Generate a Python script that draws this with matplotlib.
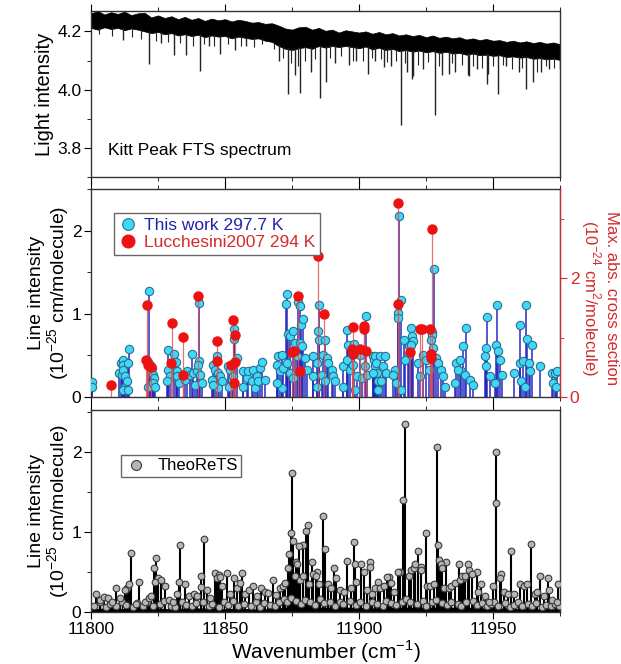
import numpy as np
import matplotlib
matplotlib.use("Agg")
import matplotlib.pyplot as plt
from matplotlib.ticker import MultipleLocator

plt.rcParams["font.family"] = ["Liberation Sans", "DejaVu Sans"]
plt.rcParams["mathtext.fontset"] = "custom"
plt.rcParams["mathtext.rm"] = "Liberation Sans"

WN0 = 11800.0

# ---------- Kitt Peak FTS spectrum: band envelopes + absorption dips ----------
fts_wn = [0, 2.5, 5, 7.5, 10, 12.5, 15, 17.5, 20, 22.5, 25, 27.5, 30, 32.5,
          35, 37.5, 40, 42.5, 45, 47.5, 50, 52.5, 55, 57.5, 60, 62.5, 65,
          67.5, 70, 72.5, 75, 77.5, 80, 82.5, 85, 87.5, 90, 92.5, 95, 97.5,
          100, 102.5, 105, 107.5, 110, 112.5, 115, 117.5, 120, 122.5, 125,
          127.5, 130, 132.5, 135, 137.5, 140, 142.5, 145, 147.5, 150, 152.5,
          155, 157.5, 160, 162.5, 165, 167.5, 170, 172.5, 175]
fts_top = [4.262, 4.270, 4.258, 4.266, 4.260, 4.268, 4.256, 4.262, 4.264,
           4.248, 4.255, 4.246, 4.252, 4.242, 4.250, 4.240, 4.246, 4.236,
           4.244, 4.238, 4.242, 4.234, 4.240, 4.236, 4.230, 4.232, 4.226,
           4.228, 4.220, 4.210, 4.206, 4.214, 4.216, 4.206, 4.212, 4.202,
           4.206, 4.196, 4.204, 4.200, 4.196, 4.200, 4.192, 4.198, 4.190,
           4.194, 4.186, 4.190, 4.184, 4.188, 4.180, 4.186, 4.178, 4.182,
           4.176, 4.180, 4.172, 4.176, 4.170, 4.174, 4.168, 4.170, 4.164,
           4.168, 4.162, 4.166, 4.160, 4.164, 4.158, 4.162, 4.156]
fts_bot = [4.212, 4.206, 4.214, 4.208, 4.212, 4.204, 4.210, 4.206, 4.200,
           4.194, 4.198, 4.190, 4.194, 4.186, 4.190, 4.184, 4.188, 4.180,
           4.186, 4.182, 4.184, 4.176, 4.182, 4.178, 4.174, 4.176, 4.168,
           4.164, 4.150, 4.140, 4.136, 4.142, 4.146, 4.140, 4.150, 4.144,
           4.150, 4.146, 4.150, 4.146, 4.142, 4.148, 4.138, 4.144, 4.136,
           4.140, 4.132, 4.136, 4.130, 4.134, 4.128, 4.132, 4.126, 4.130,
           4.124, 4.126, 4.120, 4.124, 4.118, 4.120, 4.116, 4.118, 4.112,
           4.114, 4.110, 4.112, 4.106, 4.108, 4.104, 4.106, 4.102]
dip_wn = [12.0, 21.8, 26.0, 31.0, 35.6, 40.7, 44.0, 48.2, 53.6, 58.0, 66.0,
          70.0, 73.6, 76.0, 78.1, 82.0, 85.5, 87.7, 91.0, 96.3, 99.0, 103.3,
          106.0, 109.2, 112.0, 115.6, 118.0, 119.8, 120.3, 124.0, 128.2,
          131.0, 133.7, 136.0, 140.7, 141.1, 144.0, 147.8, 148.2, 151.9,
          155.0, 159.6, 162.3, 164.9, 168.0, 171.0, 174.9]
dip_min = [4.170, 4.089, 4.160, 4.118, 4.118, 4.063, 4.150, 4.124, 4.136,
           4.150, 4.170, 4.100, 3.984, 4.050, 3.987, 4.060, 3.972, 4.025,
           4.090, 4.083, 4.100, 4.054, 4.100, 4.077, 4.080, 3.878, 4.060,
           4.036, 4.048, 4.070, 3.913, 4.050, 4.054, 4.060, 4.049, 4.048,
           4.070, 4.019, 4.054, 3.984, 4.080, 4.060, 4.001, 4.025, 4.060,
           4.070, 4.071]
# weaker dips that give the band its ragged lower edge
small_wn = [3.0, 7.8, 15.2, 18.5, 24.1, 28.7, 33.2, 38.0, 42.3, 46.0, 51.0,
            56.1, 60.8, 63.9, 68.2, 71.5, 74.8, 77.2, 80.0, 83.6, 89.2, 93.1,
            97.6, 101.4, 104.7, 108.1, 110.6, 113.7, 117.0, 121.9, 125.8,
            129.7, 134.6, 138.3, 142.6, 146.0, 150.0, 153.6, 157.2, 160.8,
            166.3, 169.6, 172.7]
small_min = [4.190, 4.185, 4.180, 4.175, 4.168, 4.165, 4.160, 4.150, 4.158,
             4.150, 4.155, 4.150, 4.145, 4.155, 4.140, 4.110, 4.090, 4.080,
             4.100, 4.105, 4.110, 4.115, 4.100, 4.098, 4.110, 4.105, 4.095,
             4.100, 4.090, 4.085, 4.095, 4.080, 4.090, 4.085, 4.080, 4.075,
             4.080, 4.085, 4.070, 4.075, 4.060, 4.080, 4.075]

# ---------- This work 297.7 K (left axis, 1e-25 cm/molecule) ----------
work_wn = [0.2, 0.2, 10.6, 11.1, 11.4, 11.8, 12.1, 12.1, 12.7, 12.7, 11.8,
           13.3, 13.9, 13.9, 14.2, 21.8, 21.4, 21.4, 22.0, 22.3, 22.6, 23.0,
           23.5, 23.3, 23.9, 28.6, 28.9, 29.5, 28.5, 31.1, 31.6, 32.0, 32.2,
           32.7, 35.1, 35.7, 36.9, 37.6, 38.2, 38.8, 39.4, 40.4, 40.4, 40.0,
           40.7, 41.3, 45.0, 45.6, 46.3, 46.9, 47.3, 47.5, 48.1, 48.8, 45.6,
           51.2, 51.5, 51.9, 52.5, 53.1, 53.5, 53.4, 54.4, 56.6, 56.8, 58.1,
           58.7, 59.9, 60.6, 61.2, 61.8, 62.4, 63.1, 63.7, 64.9, 69.3, 69.9,
           70.5, 71.1, 71.1, 69.3, 71.8, 72.6, 73.0, 73.3, 73.6, 74.3, 74.3,
           75.5, 75.5, 76.1, 76.7, 77.4, 78.0, 78.0, 78.4, 78.9, 79.2, 79.9,
           80.5, 83.0, 83.0, 84.2, 84.7, 85.0, 85.2, 84.2, 86.1, 86.4, 87.3,
           87.3, 87.9, 88.6, 89.8, 90.4, 91.0, 94.2, 94.2, 95.4, 95.6, 96.0,
           96.6, 97.9, 98.3, 98.5, 99.1, 100.4, 101.0, 102.2, 102.5, 102.9,
           105.3, 105.7, 106.0, 106.6, 107.2, 105.8, 107.7, 109.6, 106.5,
           109.0, 110.2, 105.2, 108.3, 107.1, 115.0, 115.5, 114.6, 114.6,
           116.7, 118.5, 119.3, 119.8, 120.1, 119.5, 118.3, 117.0, 113.3,
           112.7, 113.9, 115.8, 122.0, 123.9, 125.1, 126.1, 122.6, 127.1,
           127.1, 127.9, 127.0, 127.6, 128.9, 129.5, 130.7, 131.3, 132.0,
           136.3, 137.6, 138.2, 140.0, 138.8, 136.9, 139.4, 141.3, 142.5,
           135.7, 147.8, 147.5, 151.2, 151.4, 151.9, 152.5, 153.5, 146.9,
           147.5, 148.8, 150.6, 160.2, 162.2, 162.7, 164.7, 157.7, 160.0,
           161.2, 163.4, 163.7, 160.6, 161.8, 167.4, 172.1, 173.0, 174.0,
           172.4, 173.6]
work_s = [0.18, 0.125, 0.29, 0.41, 0.27, 0.45, 0.39, 0.33, 0.25, 0.125, 0.085,
          0.19, 0.41, 0.085, 0.58, 1.27, 0.42, 0.125, 0.39, 0.31, 0.35, 0.27,
          0.23, 0.17, 0.125, 0.56, 0.33, 0.25, 0.19, 0.52, 0.42, 0.31, 0.25,
          0.17, 0.20, 0.31, 0.27, 0.52, 0.29, 0.15, 0.31, 1.13, 0.43, 0.39,
          0.27, 0.17, 0.20, 0.39, 0.33, 0.49, 0.105, 0.29, 0.25, 0.19, 0.15,
          0.37, 0.125, 0.33, 0.21, 0.25, 0.82, 0.70, 0.47, 0.31, 0.125, 0.23,
          0.31, 0.19, 0.33, 0.105, 0.25, 0.19, 0.35, 0.42, 0.21, 0.39, 0.49,
          0.31, 0.50, 0.105, 0.17, 0.35, 1.12, 0.41, 1.24, 0.76, 0.73, 0.29,
          0.79, 0.23, 0.65, 0.49, 1.14, 1.09, 0.65, 0.86, 0.61, 0.94, 0.47,
          0.33, 0.49, 0.25, 0.41, 0.79, 1.11, 0.68, 0.125, 0.27, 0.51, 0.68,
          0.19, 0.47, 0.41, 0.33, 0.25, 0.19, 0.37, 0.125, 0.45, 0.81, 0.63,
          0.33, 0.39, 0.64, 0.085, 0.25, 0.51, 0.23, 0.37, 0.97, 0.27,
          0.49, 0.45, 0.37, 0.29, 0.19, 0.49, 0.49, 0.49, 0.41,
          0.37, 0.29, 0.29, 0.19, 0.085, 2.17, 1.17, 1.01, 0.95,
          0.68, 0.61, 0.83, 0.73, 0.67, 0.63, 0.49, 0.45, 0.33,
          0.27, 0.17, 0.085, 0.41, 0.51, 0.45, 0.33, 0.25, 0.78,
          0.74, 1.54, 0.69, 0.59, 0.47, 0.41, 0.33, 0.25, 0.125,
          0.41, 0.45, 0.31, 0.83, 0.61, 0.33, 0.27, 0.21, 0.15,
          0.17, 0.96, 0.59, 0.63, 1.10, 0.55, 0.45, 0.27, 0.49,
          0.37, 0.25, 0.17, 0.86, 1.10, 0.70, 0.62, 0.29, 0.41,
          0.43, 0.41, 0.31, 0.19, 0.125, 0.37, 0.29, 0.29, 0.31,
          0.17, 0.125]

# ---------- Lucchesini2007 294 K (right axis, 1e-24 cm^2/molecule) ----------
luc_wn = [7.3, 20.8, 20.5, 21.4, 22.3, 30.1, 29.7, 34.5, 34.5, 40.0, 46.9,
          46.9, 52.1, 52.9, 53.7, 53.9, 53.4, 75.1, 75.7, 77.1, 78.0, 84.7,
          86.8, 97.9, 97.3, 97.9, 101.9, 101.9, 100.4, 102.5, 114.7, 114.4,
          118.9, 122.6, 123.6, 126.6, 127.4, 126.7, 126.7]
luc_x = [0.21, 1.55, 0.62, 0.54, 0.51, 1.25, 0.57, 1.01, 0.37, 1.70, 0.94,
         0.61, 0.54, 1.29, 1.04, 0.59, 0.24, 0.75, 0.78, 1.70, 0.43, 2.38,
         1.39, 1.18, 0.80, 0.73, 1.19, 1.14, 0.80, 0.78, 3.27, 1.57, 0.76,
         1.14, 1.14, 1.15, 2.83, 0.73, 0.65]

# ---------- TheoReTS line list ----------
theo_wn = [15.0, 13.5, 14.0, 24.3, 23.4, 24.9, 23.7, 33.3, 33.0, 42.2, 40.9,
           46.1, 47.6, 50.7, 56.3, 67.9, 75.1, 74.5, 75.3, 74.0, 80.2, 80.8,
           79.0, 77.6, 76.5, 86.4, 87.4, 82.4, 84.2, 95.7, 98.2, 98.5, 100.8,
           104.2, 104.2, 107.1, 111.1, 116.5, 117.1, 115.3, 122.0, 120.8,
           123.0, 124.9, 129.1, 129.5, 130.0, 132.3, 137.2, 139.0, 141.2,
           143.9, 151.3, 151.1, 153.1, 156.8, 164.2, 167.4, 170.4, 174.3,
           2.0, 3.5, 5.0, 6.5, 8.0, 9.5, 11.0, 12.5, 16.8, 18.0, 20.0, 21.5,
           22.5, 26.0, 27.5, 29.0, 30.5, 32.0, 35.0, 36.5, 38.5, 39.5, 41.0,
           43.3, 44.5, 47.0, 48.2, 49.0, 52.0, 53.5, 54.5, 55.5, 57.5, 59.0,
           60.5, 62.0, 63.5, 65.0, 66.0, 69.0, 70.5, 71.5, 72.5, 73.5, 76.0,
           77.0, 78.0, 79.0, 81.5, 83.0, 84.0, 85.0, 88.5, 89.5, 90.5, 91.5,
           93.0, 94.5, 97.0, 99.0, 102.0, 103.0, 105.0, 106.0, 108.0, 109.5,
           110.5, 112.0, 113.0, 114.5, 118.5, 119.5, 120.5, 121.0, 123.2,
           125.5, 126.5, 128.0, 130.5, 131.0, 131.8, 133.5, 134.5, 136.0,
           137.5, 138.5, 139.5, 140.5, 142.0, 144.5, 145.5, 147.0, 148.5,
           150.0, 152.5, 154.0, 155.5, 158.0, 160.0, 161.5, 162.5, 165.5,
           166.5, 169.0, 170.8, 172.0, 174.0]
theo_s = [0.73, 0.30, 0.35, 0.67, 0.55, 0.42, 0.38, 0.83, 0.37, 0.91, 0.45,
          0.49, 0.46, 0.49, 0.49, 0.40, 1.73, 0.99, 0.89, 0.72, 1.01, 1.08,
          0.83, 0.82, 0.63, 1.20, 0.78, 0.63, 0.50, 0.64, 0.87, 0.60, 0.60,
          0.62, 0.56, 0.38, 0.44, 1.40, 2.35, 0.50, 0.76, 0.57, 0.56, 0.98,
          2.06, 0.83, 0.65, 0.62, 0.60, 0.42, 0.52, 0.50, 1.99, 1.36, 0.48,
          0.76, 0.85, 0.45, 0.43, 0.35,
          0.22, 0.15, 0.19, 0.17, 0.12, 0.30, 0.18, 0.28, 0.10, 0.38, 0.12,
          0.17, 0.20, 0.40, 0.32, 0.15, 0.12, 0.22, 0.35, 0.20, 0.22, 0.20,
          0.31, 0.28, 0.18, 0.43, 0.44, 0.33, 0.22, 0.43, 0.30, 0.36, 0.22,
          0.27, 0.32, 0.20, 0.30, 0.25, 0.24, 0.21, 0.30, 0.33, 0.36, 0.55,
          0.45, 0.60, 0.40, 0.45, 0.35, 0.48, 0.45, 0.35, 0.35, 0.30, 0.55,
          0.42, 0.28, 0.25, 0.30, 0.38, 0.50, 0.28, 0.22, 0.30, 0.30, 0.32,
          0.44, 0.36, 0.25, 0.50, 0.45, 0.52, 0.55, 0.60, 0.52, 0.33, 0.33,
          0.35, 0.60, 0.55, 0.30, 0.30, 0.33, 0.36, 0.40, 0.45, 0.45, 0.60,
          0.47, 0.25, 0.35, 0.20, 0.12, 0.32, 0.42, 0.25, 0.22, 0.22, 0.35,
          0.33, 0.35, 0.22, 0.25, 0.20, 0.27, 0.15, 0.12]
# weak TheoReTS lines just above the floor
weak_wn = [1.0, 3.2, 5.5, 7.1, 9.4, 11.6, 13.0, 15.8, 17.3, 19.5, 21.0, 23.1,
           25.6, 27.2, 29.8, 31.4, 33.9, 35.5, 37.7, 39.1, 41.8, 43.9, 45.2,
           47.8, 49.6, 51.3, 53.0, 55.0, 57.2, 59.8, 61.5, 63.0, 64.6, 66.8,
           68.5, 70.1, 72.0, 73.2, 74.8, 76.6, 78.5, 80.0, 81.9, 83.5, 85.6,
           87.1, 89.0, 91.2, 92.8, 94.1, 96.5, 98.9, 100.5, 102.6, 104.8,
           106.7, 108.9, 110.0, 111.9, 113.8, 115.9, 117.6, 119.1, 121.7,
           123.8, 125.0, 127.3, 128.6, 130.9, 132.8, 134.2, 136.9, 138.1,
           140.0, 142.7, 144.0, 145.9, 147.6, 149.2, 150.5, 152.0, 154.6,
           156.2, 157.9, 159.3, 161.0, 163.0, 164.5, 166.0, 168.2, 169.8,
           171.5, 173.3, 174.6]
weak_s = [0.08, 0.12, 0.06, 0.10, 0.07, 0.13, 0.09, 0.06, 0.11, 0.08, 0.12,
          0.07, 0.10, 0.14, 0.08, 0.06, 0.12, 0.09, 0.07, 0.11, 0.13, 0.08,
          0.10, 0.06, 0.12, 0.09, 0.14, 0.07, 0.10, 0.08, 0.12, 0.06, 0.11,
          0.09, 0.07, 0.13, 0.16, 0.12, 0.18, 0.14, 0.10, 0.15, 0.12, 0.09,
          0.16, 0.11, 0.13, 0.08, 0.12, 0.10, 0.14, 0.09, 0.12, 0.07, 0.13,
          0.10, 0.08, 0.14, 0.11, 0.09, 0.13, 0.16, 0.12, 0.10, 0.14, 0.08,
          0.12, 0.15, 0.11, 0.09, 0.13, 0.10, 0.08, 0.12, 0.14, 0.09, 0.11,
          0.07, 0.10, 0.13, 0.08, 0.11, 0.06, 0.09, 0.12, 0.08, 0.10, 0.07,
          0.11, 0.06, 0.09, 0.08, 0.10, 0.07]
# unresolved weak-line floor (5 cm-1 steps)
floor_wn = [0, 5, 10, 15, 20, 25, 30, 35, 40, 45, 50, 55, 60, 65, 70, 75, 80,
            85, 90, 95, 100, 105, 110, 115, 120, 125, 130, 135, 140, 145,
            150, 155, 160, 165, 170, 175]
floor_s = [0.04, 0.05, 0.04, 0.05, 0.04, 0.05, 0.04, 0.05, 0.05, 0.05, 0.04,
           0.05, 0.04, 0.04, 0.05, 0.07, 0.07, 0.06, 0.06, 0.06, 0.06, 0.05,
           0.06, 0.06, 0.06, 0.06, 0.06, 0.06, 0.06, 0.05, 0.05, 0.05, 0.04,
           0.04, 0.04, 0.04]

XLIM = (11800, 11975)
W, H = 621, 664
LEFT, RIGHT = 91, 560
RED = "#d42a2a"


def panel(fig, top, bottom):
    return fig.add_axes([LEFT / W, (H - bottom) / H,
                         (RIGHT - LEFT) / W, (bottom - top) / H])


def style_x(ax, labels=False):
    ax.set_xlim(*XLIM)
    ax.xaxis.set_major_locator(MultipleLocator(50))
    ax.xaxis.set_minor_locator(MultipleLocator(25))
    ax.tick_params(axis="x", which="both", direction="out", top=True,
                   labelbottom=labels, labelsize=12.5, pad=2)
    ax.tick_params(axis="x", which="major", length=5)
    ax.tick_params(axis="x", which="minor", length=3)
    ax.tick_params(axis="y", which="major", length=5, labelsize=12.5, pad=2)
    ax.tick_params(axis="y", which="minor", length=3)
    for s in ax.spines.values():
        s.set_linewidth(1.0)
        s.set_color("#333333")


fig = plt.figure(figsize=(W / 100, H / 100), dpi=100)

# ---------- top: FTS spectrum ----------
ax1 = panel(fig, 11, 177)
fx = WN0 + np.array(fts_wn)
ax1.fill_between(fx, fts_bot, fts_top, color="black", lw=0.5, ec="black")
for wn_list, mins, lw in ((dip_wn, dip_min, 1.0), (small_wn, small_min, 0.8)):
    dx = WN0 + np.array(wn_list)
    ax1.vlines(dx, mins, np.interp(dx, fx, fts_bot) + 0.005,
               color="#222222", lw=lw)
ax1.set_ylim(3.7, 4.27)
ax1.yaxis.set_minor_locator(MultipleLocator(0.1))
ax1.set_yticks([3.8, 4.0, 4.2])
style_x(ax1)
ax1.set_ylabel("Light intensity", fontsize=14.5)
ax1.yaxis.set_label_coords(-0.078, 0.5)
ax1.text(0.036, 0.13, "Kitt Peak FTS spectrum", transform=ax1.transAxes,
         fontsize=12.5)

# ---------- middle: This work + Lucchesini ----------
ax2 = panel(fig, 189, 397)
ww = WN0 + np.array(work_wn)
ax2.vlines(ww, 0, work_s, color="#1f1fbf", lw=1.4, alpha=0.75, zorder=2)
ax2.plot(ww, work_s, "o", ms=6, mfc="#3fd9f7", mec="#2b6f92", mew=0.8,
         zorder=3, label="This work 297.7 K")
ax2.set_ylim(0, 2.5)
ax2.yaxis.set_major_locator(MultipleLocator(1))
ax2.yaxis.set_minor_locator(MultipleLocator(0.5))
style_x(ax2)
ax2.set_ylabel("Line intensity\n(10$^{-25}$ cm/molecule)", fontsize=14,
               linespacing=1.05)
ax2.yaxis.set_label_coords(-0.04, 0.5)

ax2r = ax2.twinx()
lx = WN0 + np.array(luc_wn)
ax2r.vlines(lx, 0, luc_x, color="#e05050", lw=0.9, alpha=0.8, zorder=2)
ax2r.plot(lx, luc_x, "o", ms=6.5, mfc="#ee1111", mec="#ee1111", zorder=3,
          label="Lucchesini2007 294 K")
ax2r.set_ylim(0, 3.5)
ax2r.yaxis.set_major_locator(MultipleLocator(2))
ax2r.yaxis.set_minor_locator(MultipleLocator(1))
ax2r.tick_params(axis="y", which="both", colors=RED, labelsize=12.5, pad=2)
ax2r.tick_params(axis="y", which="major", length=5)
ax2r.tick_params(axis="y", which="minor", length=3)
ax2r.spines["right"].set_color(RED)
for side in ("left", "top", "bottom"):
    ax2r.spines[side].set_visible(False)
fig.text(599 / W, (H - 298) / H,
         "Max. abs. cross section\n(10$^{-24}$ cm$^{2}$/molecule)",
         fontsize=12, color=RED, rotation=270, ha="center", va="center",
         linespacing=1.05)

h1, l1 = ax2.get_legend_handles_labels()
h2, l2 = ax2r.get_legend_handles_labels()
leg = ax2r.legend(h1 + h2, l1 + l2, loc="upper left",
                  bbox_to_anchor=(0.05, 0.885), fontsize=12.5,
                  markerscale=1.4, handletextpad=0.4, borderpad=0.3,
                  labelspacing=0.1, handlelength=1.0, fancybox=False,
                  edgecolor="#666666", framealpha=1, borderaxespad=0)
leg.get_texts()[0].set_color("#2323a8")
leg.get_texts()[1].set_color(RED)

# ---------- bottom: TheoReTS ----------
ax3 = panel(fig, 410, 612)
tx = WN0 + np.array(theo_wn)
kx = WN0 + np.array(weak_wn)
ax3.fill_between(WN0 + np.array(floor_wn), 0, floor_s, color="black", lw=0)
ax3.vlines(kx, 0, weak_s, color="black", lw=1.0, zorder=2)
ax3.vlines(tx, 0, theo_s, color="black", lw=1.5, zorder=2)
ax3.plot(kx, weak_s, "o", ms=4.8, mfc="#b5b5b5", mec="#3a3a3a", mew=0.8,
         zorder=3)
ax3.plot(tx, theo_s, "o", ms=4.8, mfc="#b5b5b5", mec="#3a3a3a", mew=0.8,
         zorder=3, label="TheoReTS")
ax3.set_ylim(0, 2.52)
ax3.yaxis.set_major_locator(MultipleLocator(1))
ax3.yaxis.set_minor_locator(MultipleLocator(0.5))
style_x(ax3, labels=True)
ax3.set_ylabel("Line intensity\n(10$^{-25}$ cm/molecule)", fontsize=14,
               linespacing=1.05)
ax3.yaxis.set_label_coords(-0.04, 0.5)
ax3.set_xlabel("Wavenumber (cm$^{-1}$)", fontsize=15, labelpad=1)
handles, labels = ax3.get_legend_handles_labels()
ax3.legend(handles, labels, loc="upper left",
           bbox_to_anchor=(0.064, 0.777), fontsize=12, markerscale=1.5,
           handletextpad=0.6, borderpad=0.2, handlelength=1.4,
           fancybox=False, edgecolor="#666666", framealpha=1,
           borderaxespad=0)

fig.savefig("out.png", dpi=100)
